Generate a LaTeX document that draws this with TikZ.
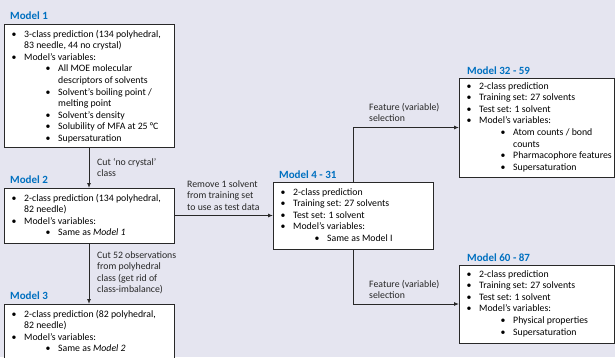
\documentclass[tikz,border=0pt]{standalone}
\usepackage{fontspec}
\setmainfont{Carlito}
\usetikzlibrary{arrows.meta}
\definecolor{bgc}{RGB}{229,229,240}
\definecolor{ttl}{RGB}{0,112,192}
\definecolor{ln}{RGB}{40,40,40}
\newcommand\ia[1]{\par\noindent\makebox[20pt][l]{\hspace{7.5pt}\textbullet}#1}
\newcommand\ic[1]{\par\noindent\hspace*{20pt}#1}
\newcommand\ib[1]{\par\noindent\makebox[54pt][l]{\hspace{41.5pt}\textbullet}#1}
\newcommand\id[1]{\par\noindent\hspace*{54pt}#1}
\newcommand\txt[1]{\parbox[t]{220pt}{\fontsize{9.8}{11.6}\selectfont #1}}
\tikzset{
  box/.style={draw=ln, line width=0.9pt, fill=white, inner sep=0pt, outer sep=0pt, anchor=north west},
  body/.style={anchor=base west, inner sep=0pt},
  ttlnode/.style={anchor=base west, inner sep=0pt, text=ttl, font=\fontsize{11}{13}\selectfont\bfseries},
  conn/.style={draw=ln, line width=0.9pt, -{Latex[length=5pt,width=4pt]}},
  lbl/.style={anchor=base west, inner sep=0pt, text=black!85},
}
\begin{document}
\begin{tikzpicture}[x=1pt,y=-1pt]
\fill[bgc] (0,0) rectangle (615,357);
\useasboundingbox (0,0) rectangle (615,357);
% boxes
\node[box, minimum width=170pt, minimum height=123pt] (m1) at (4,24) {};
\node[box, minimum width=170pt, minimum height=55pt] (m2) at (4,188) {};
\node[box, minimum width=170pt, minimum height=56pt] (m3) at (4,304) {};
\node[box, minimum width=160pt, minimum height=67pt] (m4) at (273,182) {};
\node[box, minimum width=155pt, minimum height=99pt] (m32) at (459,78) {};
\node[box, minimum width=155pt, minimum height=78pt] (m60) at (459,265) {};
% titles
\node[ttlnode] (t1) at (10,19) {Model 1};
\node[ttlnode] (t2) at (10,183) {Model 2};
\node[ttlnode] (t3) at (10,299) {Model 3};
\node[ttlnode] (t4) at (279,178) {Model 4 - 31};
\node[ttlnode] (t32) at (467,74) {Model 32 - 59};
\node[ttlnode] (t60) at (467,261) {Model 60 - 87};
% box texts
\node[body] (b1) at (4,37) {\txt{%
\ia{3-class prediction (134 polyhedral,}
\ic{83 needle, 44 no crystal)}
\ia{Model’s variables:}
\ib{All MOE molecular}
\id{descriptors of solvents}
\ib{Solvent’s boiling point /}
\id{melting point}
\ib{Solvent’s density}
\ib{Solubility of MFA at 25 °C}
\ib{Supersaturation}}};
\node[body] (b2) at (4,201) {\txt{%
\ia{2-class prediction (134 polyhedral,}
\ic{82 needle)}
\ia{Model’s variables:}
\ib{Same as \textit{Model 1}}}};
\node[body] (b3) at (4,317) {\txt{%
\ia{2-class prediction (82 polyhedral,}
\ic{82 needle)}
\ia{Model’s variables:}
\ib{Same as \textit{Model 2}}}};
\node[body] (b4) at (273,195) {\txt{%
\ia{2-class prediction}
\ia{Training set: 27 solvents}
\ia{Test set: 1 solvent}
\ia{Model’s variables:}
\ib{Same as Model I}}};
\node[body] (b32) at (459,89) {\txt{%
\ia{2-class prediction}
\ia{Training set: 27 solvents}
\ia{Test set: 1 solvent}
\ia{Model’s variables:}
\ib{Atom counts / bond}
\id{counts}
\ib{Pharmacophore features}
\ib{Supersaturation}}};
\node[body] (b60) at (459,277) {\txt{%
\ia{2-class prediction}
\ia{Training set: 27 solvents}
\ia{Test set: 1 solvent}
\ia{Model’s variables:}
\ib{Physical properties}
\ib{Supersaturation}}};
% connectors
\draw[conn] (m1.south) -- (m2.north);
\draw[conn] (m2.south) -- (m3.north);
\draw[conn] (m2.east) -- (m4.west);
\draw[conn] (m4.north) |- (m32.west);
\draw[conn] (m4.south) |- (m60.west);
% labels
\node[lbl] (l1) at (97,165) {\txt{Cut ‘no crystal’\par class}};
\node[lbl] (l2) at (97,258) {\txt{Cut 52 observations\par from polyhedral\par class (get rid of\par class-imbalance)}};
\node[lbl] (l3) at (187,187) {\txt{Remove 1 solvent\par from training set\par to use as test data}};
\node[lbl] (l4) at (369,110) {\txt{Feature (variable)\par selection}};
\node[lbl] (l5) at (369,287) {\txt{Feature (variable)\par selection}};
\end{tikzpicture}
\end{document}
